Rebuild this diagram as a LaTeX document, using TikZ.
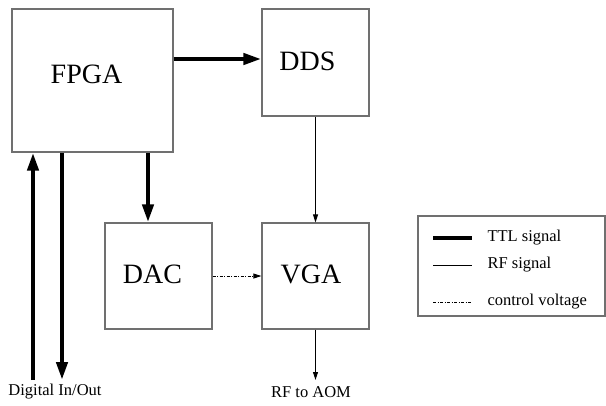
\documentclass[tikz,border=0pt]{standalone}
\usepackage{fontspec}
\setmainfont{Liberation Serif}
\usetikzlibrary{positioning,arrows.meta}
\definecolor{FrameGray}{RGB}{112,112,112}

\begin{document}
\begin{tikzpicture}[x=1pt, y=-1pt, every node/.style={font=\fontsize{16.5}{19}\selectfont, align=center},
  block/.style={draw=FrameGray, line width=1.3pt, inner sep=0pt, minimum width=107pt, minimum height=107pt},
  blocktext/.style={font=\fontsize{28}{32}\selectfont},
  ttl/.style={line width=4.2pt, -{Triangle[length=18pt,width=11pt]}},
  rf/.style={line width=0.9pt, -{Triangle[length=8pt,width=5pt]}},
  ctrl/.style={line width=0.9pt, dash pattern=on 3pt off 1.5pt on 1pt off 1.5pt, -{Triangle[length=8pt,width=5pt]}}]
  \useasboundingbox (0,0) rectangle (606,405);
  % blocks
  \node[block, minimum width=161pt, minimum height=143pt, label={[blocktext, xshift=-6pt, yshift=6pt]center:FPGA}] (fpga) at (92.5,80.5) {};
  \node[block, label={[blocktext, xshift=-8pt, yshift=1.5pt]center:DDS}] (dds) at (315.5,62.5) {};
  \node[block, minimum height=106pt, label={[blocktext, xshift=-6pt, yshift=1.5pt]center:DAC}] (dac) at (158.5,276) {};
  \node[block, minimum height=106pt, label={[blocktext, xshift=-4.5pt, yshift=1.5pt]center:VGA}] (vga) at (315.5,276) {};
  \coordinate (dioin) at (33,380);
  \coordinate (dioout) at (62,380);
  \coordinate (aom) at (315.5,380);
  % connectors
  \draw[ttl] ([yshift=21.5pt]fpga.east) -- ([yshift=3.5pt]dds.west);
  \draw[ttl] ([xshift=55.5pt]fpga.south) -- ([xshift=55.5pt]fpga.south |- dac.north);
  \draw[ttl] (dioin) -- (dioin |- fpga.south);
  \draw[ttl] (dioout |- fpga.south) -- (dioout);
  \draw[rf] (dds) -- (vga);
  \draw[ctrl] (dac) -- (vga);
  \draw[rf] (vga) -- (aom);
  \node (diolabel) at (55,392) {Digital In/Out};
  \node (aomlabel) at (311,392) {RF to AOM};
  % legend
  \draw[draw=FrameGray, line width=1.3pt] (418,216) rectangle (605,316);
  \draw[line width=4.2pt] (433,238) -- (472,238);
  \draw[line width=0.9pt] (433,265) -- (472,265);
  \draw[line width=0.9pt, dash pattern=on 3pt off 1.5pt on 1pt off 1.5pt] (433,302) -- (472,302);
  \node[anchor=west] (ttltext) at (484,238) {TTL signal};
  \node[anchor=west] (rftext) at (484,265) {RF signal};
  \node[anchor=west] (ctrltext) at (484,302) {control voltage};
\end{tikzpicture}
\end{document}
